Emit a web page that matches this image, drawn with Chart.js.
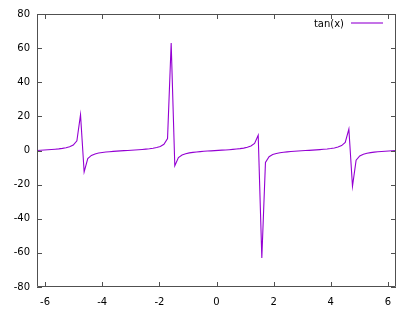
<!DOCTYPE html>
<html>
<head>
<meta charset="utf-8">
<script src="https://cdn.jsdelivr.net/npm/chart.js@4"></script>
<style>
  html, body { margin:0; padding:0; background:#fff; }
  #wrap { width:416px; height:312px; }
</style>
</head>
<body>
<div id="wrap"><canvas id="c" width="416" height="312"></canvas></div>
<script>
const seriesLabel = 'tan(x)';
const xs = [
  -6.2832,-6.1563,-6.0293,-5.9024,-5.7755,-5.6485,-5.5216,-5.3947,-5.2677,-5.1408,
  -5.0139,-4.8869,-4.7600,-4.6331,-4.5061,-4.3792,-4.2523,-4.1253,-3.9984,-3.8715,
  -3.7445,-3.6176,-3.4907,-3.3637,-3.2368,-3.1099,-2.9829,-2.8560,-2.7291,-2.6021,
  -2.4752,-2.3483,-2.2213,-2.0944,-1.9675,-1.8405,-1.7136,-1.5867,-1.4597,-1.3328,
  -1.2059,-1.0789,-0.9520,-0.8251,-0.6981,-0.5712,-0.4443,-0.3173,-0.1904,-0.0635,
   0.0635, 0.1904, 0.3173, 0.4443, 0.5712, 0.6981, 0.8251, 0.9520, 1.0789, 1.2059,
   1.3328, 1.4597, 1.5867, 1.7136, 1.8405, 1.9675, 2.0944, 2.2213, 2.3483, 2.4752,
   2.6021, 2.7291, 2.8560, 2.9829, 3.1099, 3.2368, 3.3637, 3.4907, 3.6176, 3.7445,
   3.8715, 3.9984, 4.1253, 4.2523, 4.3792, 4.5061, 4.6331, 4.7600, 4.8869, 5.0139,
   5.1408, 5.2677, 5.3947, 5.5216, 5.6485, 5.7755, 5.9024, 6.0293, 6.1563, 6.2832
];
const ys = [
   0.0000, 0.1276, 0.2595, 0.4003, 0.5564, 0.7363, 0.9535, 1.2309, 1.6117, 2.1897,
   3.2160, 5.6713, 20.9926,-12.5786,-4.7791,-2.8893,-2.0169,-1.5031,-1.1541,-0.8947,
  -0.6884,-0.5155,-0.3640,-0.2259,-0.0955, 0.0317, 0.1600, 0.2936, 0.4376, 0.5987,
   0.7866, 1.0160, 1.3140, 1.7321, 2.3874, 3.6170, 6.9552, 63.0199,-8.9666,-4.1221,
  -2.6175,-1.8664,-1.4043,-1.0827,-0.8391,-0.6427,-0.4760,-0.3284,-0.1927,-0.0636,
   0.0636, 0.1927, 0.3284, 0.4760, 0.6427, 0.8391, 1.0827, 1.4043, 1.8664, 2.6175,
   4.1221, 8.9666,-63.0199,-6.9552,-3.6170,-2.3874,-1.7321,-1.3140,-1.0160,-0.7866,
  -0.5987,-0.4376,-0.2936,-0.1600,-0.0317, 0.0955, 0.2259, 0.3640, 0.5155, 0.6884,
   0.8947, 1.1541, 1.5031, 2.0169, 2.8893, 4.7791, 12.5786,-20.9926,-5.6713,-3.2160,
  -2.1897,-1.6117,-1.2309,-0.9535,-0.7363,-0.5564,-0.4003,-0.2595,-0.1276, 0.0000
];
const xTicks = [-6, -4, -2, 0, 2, 4, 6];
const yTicks = [-80, -60, -40, -20, 0, 20, 40, 60, 80];

const lineColor = '#9400d3';
const frameColor = '#505050';
const font = { family:'DejaVu Sans', size:10 };

// gnuplot-like frame with inward ticks on all four sides, plus key in the corner
const framePlugin = {
  id:'frame',
  afterDraw(chart){
    const { ctx, chartArea:a, scales } = chart;
    const L = 5;
    ctx.save();
    ctx.strokeStyle = frameColor;
    ctx.lineWidth = 1;
    ctx.beginPath();
    ctx.rect(a.left + 0.5, a.top + 0.5, a.right - a.left - 1, a.bottom - a.top - 1);
    scales.x.ticks.forEach(t => {
      const px = Math.round(scales.x.getPixelForValue(t.value)) + 0.5;
      ctx.moveTo(px, a.bottom); ctx.lineTo(px, a.bottom - L);
      ctx.moveTo(px, a.top); ctx.lineTo(px, a.top + L);
    });
    scales.y.ticks.forEach(t => {
      const py = Math.round(scales.y.getPixelForValue(t.value)) + 0.5;
      ctx.moveTo(a.left, py); ctx.lineTo(a.left + L, py);
      ctx.moveTo(a.right, py); ctx.lineTo(a.right - L, py);
    });
    ctx.stroke();

    // key
    const ds = chart.data.datasets[0];
    ctx.font = font.size + 'px ' + font.family;
    ctx.fillStyle = '#000';
    ctx.textAlign = 'right';
    ctx.textBaseline = 'middle';
    ctx.fillText(ds.label, a.right - 52, a.top + 10);
    ctx.strokeStyle = ds.borderColor;
    ctx.lineWidth = 1.1;
    ctx.beginPath();
    ctx.moveTo(a.right - 45, a.top + 9);
    ctx.lineTo(a.right - 13, a.top + 9);
    ctx.stroke();
    ctx.restore();
  }
};

new Chart(document.getElementById('c'), {
  type:'line',
  data:{
    datasets:[{
      label: seriesLabel,
      data: xs.map((x, i) => ({ x, y: ys[i] })),
      borderColor: lineColor,
      borderWidth: 1.1,
      pointRadius: 0,
      tension: 0,
      fill: false
    }]
  },
  options:{
    responsive:false,
    animation:false,
    layout:{ padding:{ left:0, right:20, top:14, bottom:0 } },
    plugins:{ legend:{ display:false }, tooltip:{ enabled:false } },
    scales:{
      x:{
        type:'linear',
        min:-6.2832, max:6.2832,
        afterBuildTicks: s => { s.ticks = xTicks.map(v => ({ value:v })); },
        afterFit: s => { s.height = 25; },
        grid:{ display:false, drawTicks:false },
        border:{ display:false },
        ticks:{ color:'#000', font, padding:9, maxRotation:0, autoSkip:false }
      },
      y:{
        type:'linear',
        min:-80, max:80,
        afterBuildTicks: s => { s.ticks = yTicks.map(v => ({ value:v })); },
        afterFit: s => { s.width = 37; },
        grid:{ display:false, drawTicks:false },
        border:{ display:false },
        ticks:{ color:'#000', font, padding:7, autoSkip:false }
      }
    }
  },
  plugins:[framePlugin]
});
</script>
</body>
</html>
